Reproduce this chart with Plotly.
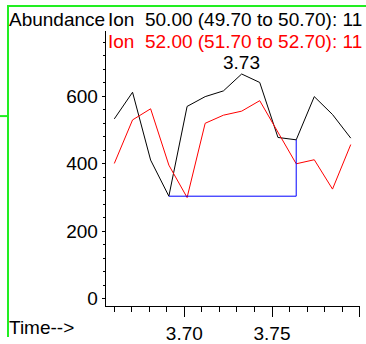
import plotly.graph_objects as go

# Retention times (min) of the scans in the window
times = [3.6601, 3.6705, 3.6808, 3.6912, 3.7016, 3.7119, 3.7223,
         3.7327, 3.7430, 3.7534, 3.7638, 3.7741, 3.7845, 3.7949]

# Extracted ion abundances
ion_50 = [533, 612, 411, 304, 570, 599, 616, 666, 641, 478, 471, 599, 546, 476]
ion_52 = [401, 530, 563, 396, 300, 520, 544, 556, 587, 493, 400, 412, 325, 457]

# Integration window (scan indices) for the m/z 50 peak
peak_start, peak_end = 3, 10

header_50 = "Ion\u00a0\u00a050.00 (49.70 to 50.70): 11"
header_52 = "Ion\u00a0\u00a052.00 (51.70 to 52.70): 11"

W, H = 366, 344
FONT = "Liberation Sans, Arial, Helvetica, sans-serif"
FS = 19


def px(x):
    return x / W


def py(y):
    return 1 - y / H


fig = go.Figure()

fig.add_trace(go.Scatter(x=times, y=ion_50, mode="lines",
                         line=dict(color="#000000", width=1)))
fig.add_trace(go.Scatter(x=times, y=ion_52, mode="lines",
                         line=dict(color="#ff0000", width=1)))

# baseline of the integrated peak
base = ion_50[peak_start]
fig.add_trace(go.Scatter(
    x=[times[peak_start], times[peak_end], times[peak_end]],
    y=[base, base, ion_50[peak_end]],
    mode="lines", line=dict(color="#0000ff", width=1)))

apex = max(range(len(ion_50)), key=lambda i: ion_50[i])

fig.update_layout(
    width=W, height=H,
    margin=dict(l=0, r=0, t=0, b=0),
    paper_bgcolor="white", plot_bgcolor="white",
    showlegend=False,
    font=dict(family=FONT, size=FS, color="black"),
    xaxis=dict(
        domain=[px(105.7), px(360)],
        range=[3.65519, 3.80017],
        showgrid=False, zeroline=False,
        showline=True, linecolor="black", linewidth=1,
        tick0=3.70, dtick=0.05, tickformat=".2f",
        ticks="outside", ticklen=10, tickcolor="black", tickwidth=1,
        minor=dict(dtick=0.01, tick0=3.70, ticks="outside", ticklen=5,
                   tickcolor="black", tickwidth=1, showgrid=False),
        tickfont=dict(family=FONT, size=FS, color="black"),
    ),
    yaxis=dict(
        domain=[py(312.3), py(31.7)],
        range=[-21.2, 793.3],
        showgrid=False, zeroline=False,
        showline=True, linecolor="black", linewidth=1,
        tick0=0, dtick=200,
        ticks="outside", ticklen=3, tickcolor="black", tickwidth=1,
        minor=dict(dtick=40, tick0=0, ticks="outside", ticklen=2,
                   tickcolor="black", tickwidth=1, showgrid=False),
        tickfont=dict(family=FONT, size=FS, color="black"),
    ),
)

annotations = [
    dict(text="Abundance", x=px(7), y=py(19.5), xanchor="left", yanchor="middle"),
    dict(text=header_50, x=px(106), y=py(19.5), xanchor="left", yanchor="middle"),
    dict(text=header_52, x=px(106), y=py(42.5), xanchor="left", yanchor="middle",
         font=dict(family=FONT, size=FS, color="#ff0000")),
    dict(text="Time-->", x=px(6.5), y=py(334), xanchor="left", yanchor="middle"),
]
for a in annotations:
    a.update(xref="paper", yref="paper", showarrow=False)
    a.setdefault("font", dict(family=FONT, size=FS, color="black"))
    fig.add_annotation(**a)

# retention time of the apex, printed above it
fig.add_annotation(x=times[apex], y=ion_50[apex], text=f"{times[apex]:.2f}",
                   showarrow=False, yanchor="bottom", yshift=-1,
                   font=dict(family=FONT, size=FS, color="black"))

# window frame lines
green = "#22ee22"
fig.add_shape(type="line", xref="paper", yref="paper",
              x0=px(8), x1=px(W), y0=py(6), y1=py(6),
              line=dict(color=green, width=2))
fig.add_shape(type="line", xref="paper", yref="paper",
              x0=px(8), x1=px(8), y0=py(5), y1=py(H),
              line=dict(color=green, width=2))
fig.add_shape(type="line", xref="paper", yref="paper",
              x0=px(0), x1=px(8), y0=py(118.5), y1=py(118.5),
              line=dict(color=green, width=2))

fig.write_html("out.html")
